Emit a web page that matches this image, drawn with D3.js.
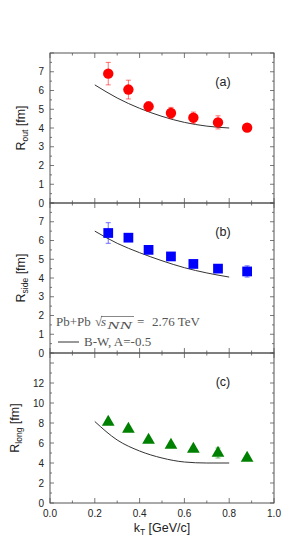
<!DOCTYPE html>
<html>
<head>
<meta charset="utf-8">
<script src="https://cdn.jsdelivr.net/npm/d3@7"></script>
<style>
  body { margin: 0; background: #fff; }
  svg { display: block; font-family: "Liberation Sans", Arial, sans-serif; }
  .tick-label { font-size: 10px; fill: #222; }
  .frame { fill: none; stroke: #555; stroke-width: 1; }
  .tick { stroke: #555; stroke-width: 0.8; }
</style>
</head>
<body>
<div id="chart"></div>
<script>
  // kT bins (GeV/c)
  const kT = [0.26, 0.35, 0.44, 0.54, 0.64, 0.75, 0.88];

  const rOut = [6.9, 6.05, 5.15, 4.8, 4.55, 4.3, 4.02];
  const rOutErr = [0.6, 0.5, 0.25, 0.3, 0.3, 0.35, 0.1];
  const rSide = [6.4, 6.15, 5.5, 5.15, 4.75, 4.5, 4.35];
  const rSideErr = [0.55, 0.1, 0.15, 0.12, 0.12, 0.1, 0.3];
  const rLong = [8.1, 7.4, 6.3, 5.8, 5.4, 5.0, 4.5];
  const rLongErr = [0.2, 0.2, 0.2, 0.2, 0.2, 0.5, 0.2];

  // blast-wave curve, A = -0.5
  const bwKT = [0.2, 0.3, 0.4, 0.5, 0.6, 0.7, 0.8];
  const bwOut = [6.3, 5.6, 5.05, 4.62, 4.3, 4.1, 4.0];
  const bwSide = [6.5, 5.85, 5.35, 4.92, 4.55, 4.27, 4.05];
  const bwLong = [8.15, 6.3, 5.2, 4.5, 4.1, 4.0, 4.0];

  const xTicks = [0.0, 0.2, 0.4, 0.6, 0.8, 1.0];

  const panels = [
    { tag: "(a)", sub: "out", vals: rOut, errs: rOutErr, bw: bwOut, max: 8, ticks: [0, 1, 2, 3, 4, 5, 6, 7], minor: 0.5, color: "#ff0000", marker: "circle" },
    { tag: "(b)", sub: "side", vals: rSide, errs: rSideErr, bw: bwSide, max: 8, ticks: [0, 1, 2, 3, 4, 5, 6, 7], minor: 0.5, color: "#0000ff", marker: "square" },
    { tag: "(c)", sub: "long", vals: rLong, errs: rLongErr, bw: bwLong, max: 15, ticks: [0, 2, 4, 6, 8, 10, 12], minor: 1, color: "#008000", marker: "triangle" }
  ];

  (function () {
    const width = 291, height = 537;
    const left = 50, right = 274, plotTop = 53, panelH = 150;

    const svg = d3.select("#chart").append("svg")
      .attr("width", width).attr("height", height);

    const x = d3.scaleLinear().domain([0, 1]).range([left, right]);
    const xMinor = d3.range(0, 1.0001, 0.1);

    panels.forEach((p, i) => {
      const y0 = plotTop + i * panelH;
      const y = d3.scaleLinear().domain([0, p.max]).range([y0 + panelH, y0]);
      const g = svg.append("g");
      const step = p.ticks[1] - p.ticks[0];

      // ticks, inward on all four sides
      d3.range(0, p.max + 0.001, p.minor).forEach(v => {
        const major = Math.abs(v / step - Math.round(v / step)) < 1e-6;
        const len = major ? 4 : 2;
        g.append("line").attr("class", "tick")
          .attr("x1", left).attr("x2", left + len).attr("y1", y(v)).attr("y2", y(v));
        g.append("line").attr("class", "tick")
          .attr("x1", right).attr("x2", right - len).attr("y1", y(v)).attr("y2", y(v));
      });
      xMinor.forEach((v, k) => {
        const len = k % 2 === 0 ? 5 : 2.5;
        g.append("line").attr("class", "tick")
          .attr("x1", x(v)).attr("x2", x(v)).attr("y1", y0 + panelH).attr("y2", y0 + panelH - len);
        g.append("line").attr("class", "tick")
          .attr("x1", x(v)).attr("x2", x(v)).attr("y1", y0).attr("y2", y0 + len);
      });

      g.append("rect").attr("class", "frame")
        .attr("x", left).attr("y", y0).attr("width", right - left).attr("height", panelH);

      p.ticks.forEach(v => {
        g.append("text").attr("class", "tick-label")
          .attr("x", left - 6).attr("y", y(v) + 3.5)
          .attr("text-anchor", "end").text(v);
      });

      // y label
      const lab = g.append("text")
        .attr("transform", `translate(${i === 2 ? 19 : 25},${y0 + panelH / 2}) rotate(-90)`)
        .attr("text-anchor", "middle")
        .style("font-size", "12.5px").attr("fill", "#222");
      lab.append("tspan").text("R");
      lab.append("tspan").attr("dy", 3).style("font-size", "8.5px").text(p.sub);
      lab.append("tspan").attr("dy", -3).text(" [fm]");

      g.append("text").attr("x", 223).attr("y", y0 + 33)
        .attr("text-anchor", "middle").style("font-size", "12.5px").attr("fill", "#222")
        .text(p.tag);

      // blast-wave curve
      const line = d3.line().curve(d3.curveMonotoneX)
        .x((d, k) => x(bwKT[k])).y(d => y(d));
      g.append("path").datum(p.bw).attr("d", line)
        .attr("fill", "none").attr("stroke", "#333").attr("stroke-width", 1);

      // error bars
      kT.forEach((k, j) => {
        const e = p.errs[j];
        const eg = g.append("g").attr("stroke", p.color).attr("stroke-opacity", 0.55).attr("stroke-width", 1);
        eg.append("line").attr("x1", x(k)).attr("x2", x(k))
          .attr("y1", y(p.vals[j] - e)).attr("y2", y(p.vals[j] + e));
        [p.vals[j] - e, p.vals[j] + e].forEach(v => {
          eg.append("line").attr("x1", x(k) - 2.5).attr("x2", x(k) + 2.5)
            .attr("y1", y(v)).attr("y2", y(v));
        });
      });

      // markers
      const sym = p.marker === "circle" ? d3.symbolCircle
        : p.marker === "square" ? d3.symbolSquare : d3.symbolTriangle;
      const size = p.marker === "circle" ? 85 : p.marker === "square" ? 95 : 70;
      g.selectAll("path.pt").data(p.vals).join("path")
        .attr("class", "pt")
        .attr("d", d3.symbol().type(sym).size(size))
        .attr("transform", (d, j) => `translate(${x(kT[j])},${y(d)})`)
        .attr("fill", p.color);
    });

    // x tick labels
    xTicks.forEach(v => {
      svg.append("text").attr("class", "tick-label")
        .attr("x", x(v)).attr("y", plotTop + 3 * panelH + 14)
        .attr("text-anchor", "middle").text(v.toFixed(1));
    });

    const xl = svg.append("text").attr("x", (left + right) / 2).attr("y", 532)
      .attr("text-anchor", "middle").style("font-size", "12.5px").attr("fill", "#222");
    xl.append("tspan").text("k");
    xl.append("tspan").attr("dy", 3).style("font-size", "8.5px").text("T");
    xl.append("tspan").attr("dy", -3).text(" [GeV/c]");

    // legend in panel (b), laid out like the LaTeX math line
    const lg = svg.append("g").style("font-family", "'Liberation Serif', 'DejaVu Serif', serif")
      .attr("fill", "#555").style("font-size", "13px");
    lg.append("text").attr("x", 56).attr("y", 326).text("Pb+Pb");
    lg.append("text").attr("x", 95).attr("y", 326).text("\u221A");
    lg.append("text").attr("x", 101).attr("y", 326).style("font-style", "italic").text("s");
    lg.append("text").attr("x", 107).attr("y", 328.5).style("font-style", "italic")
      .style("font-size", "10.5px").attr("textLength", 25).attr("lengthAdjust", "spacingAndGlyphs").text("NN");
    lg.append("text").attr("x", 137).attr("y", 326).text("=");
    lg.append("text").attr("x", 152).attr("y", 326).text("2.76 TeV");
    lg.append("line").attr("x1", 101).attr("x2", 134)
      .attr("y1", 316.5).attr("y2", 316.5).attr("stroke", "#555").attr("stroke-width", 0.7);

    lg.append("line").attr("x1", 58).attr("x2", 79).attr("y1", 342).attr("y2", 342)
      .attr("stroke", "#333").attr("stroke-width", 1);
    lg.append("text").attr("x", 84).attr("y", 346).text("B-W, A=-0.5");
  })();
</script>
</body>
</html>
